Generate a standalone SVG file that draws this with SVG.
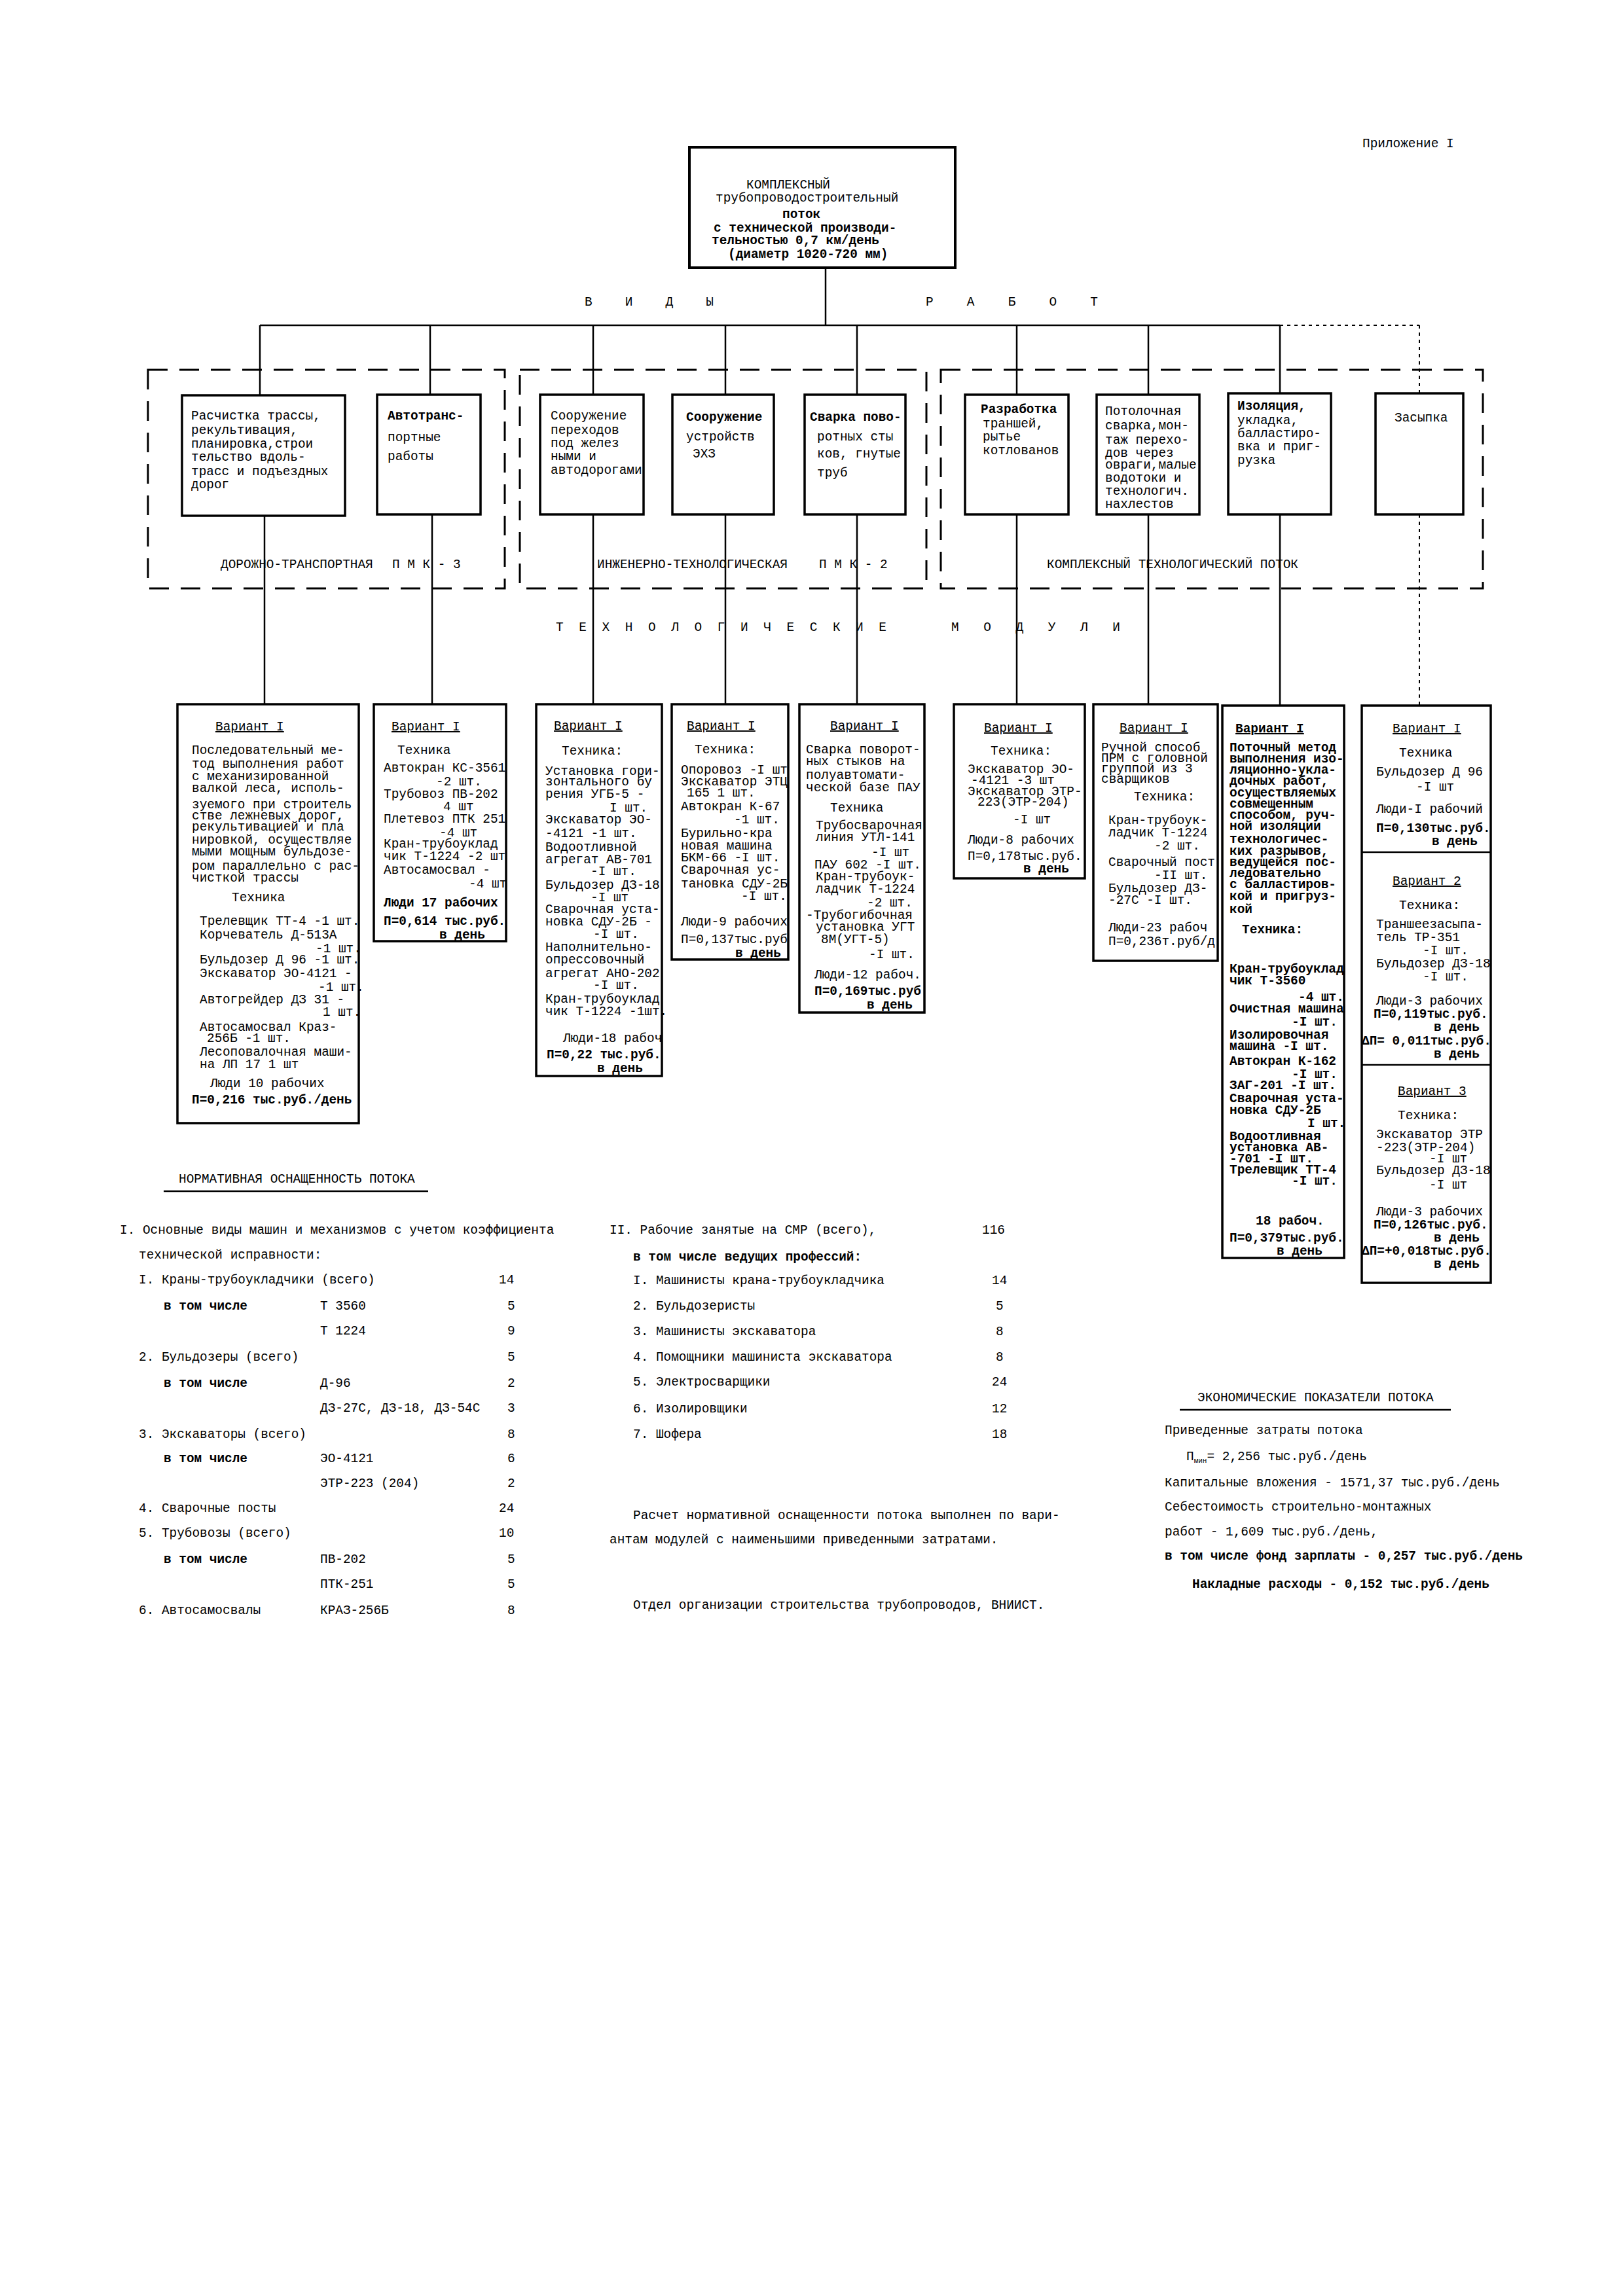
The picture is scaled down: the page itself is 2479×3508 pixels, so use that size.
<svg xmlns="http://www.w3.org/2000/svg" width="2479" height="3508" viewBox="0 0 2479 3508">
<style>
text{font-family:"Liberation Mono","DejaVu Sans Mono",monospace;font-size:19.4px;fill:#000}
.b{font-weight:bold}
.u{text-decoration:underline}
.box{fill:none;stroke:#000;stroke-width:3.5}
.grp{fill:none;stroke:#000;stroke-width:3;stroke-dasharray:30 18}
.ln{fill:none;stroke:#000;stroke-width:2.5}
.dot{fill:none;stroke:#000;stroke-width:2;stroke-dasharray:5 6}
.div{stroke:#000;stroke-width:2.5}
</style>
<rect width="2479" height="3508" fill="#fff"/>
<text x="2081" y="225">Приложение I</text>

<g id="connectors">
<line class="ln" x1="1261" y1="409" x2="1261" y2="497"/>
<line class="ln" x1="397" y1="497" x2="1955" y2="497"/>
<line class="dot" x1="1955" y1="497" x2="2168" y2="497"/>
<line class="ln" x1="397" y1="497" x2="397" y2="604"/>
<line class="ln" x1="657" y1="497" x2="657" y2="603"/>
<line class="ln" x1="906" y1="497" x2="906" y2="603"/>
<line class="ln" x1="1108" y1="497" x2="1108" y2="603"/>
<line class="ln" x1="1309" y1="497" x2="1309" y2="603"/>
<line class="ln" x1="1553" y1="497" x2="1553" y2="603"/>
<line class="ln" x1="1754" y1="497" x2="1754" y2="603"/>
<line class="ln" x1="1955" y1="497" x2="1955" y2="601"/>
<line class="dot" x1="2168" y1="497" x2="2168" y2="601"/>
<line class="ln" x1="404" y1="788" x2="404" y2="1076"/>
<line class="ln" x1="660" y1="786" x2="660" y2="1076"/>
<line class="ln" x1="906" y1="786" x2="906" y2="1076"/>
<line class="ln" x1="1108" y1="786" x2="1108" y2="1076"/>
<line class="ln" x1="1309" y1="786" x2="1309" y2="1076"/>
<line class="ln" x1="1553" y1="786" x2="1553" y2="1076"/>
<line class="ln" x1="1754" y1="786" x2="1754" y2="1076"/>
<line class="ln" x1="1955" y1="786" x2="1955" y2="1078"/>
<line class="dot" x1="2168" y1="786" x2="2168" y2="1078"/>
</g>

<g id="labels">
<text x="893" y="467" textLength="197" lengthAdjust="spacing">В И Д Ы</text>
<text x="1414" y="467" textLength="263" lengthAdjust="spacing">Р А Б О Т</text>
<text x="849" y="964" textLength="505" lengthAdjust="spacing">Т Е Х Н О Л О Г И Ч Е С К И Е</text>
<text x="1453" y="964" textLength="258" lengthAdjust="spacing">М О Д У Л И</text>
</g>

<g id="groups">
<rect class="grp" x="226" y="565" width="545" height="334"/>
<rect class="grp" x="794" y="565" width="621" height="334"/>
<rect class="grp" x="1437" y="565" width="828" height="334"/>
<text x="337" y="868">ДОРОЖНО-ТРАНСПОРТНАЯ</text>
<text x="599" y="868">П М К - 3</text>
<text x="912" y="868">ИНЖЕНЕРНО-ТЕХНОЛОГИЧЕСКАЯ</text>
<text x="1251" y="868">П М К - 2</text>
<text x="1599" y="868">КОМПЛЕКСНЫЙ ТЕХНОЛОГИЧЕСКИЙ ПОТОК</text>
</g>

<g id="root">
<rect class="box" x="1053" y="225" width="406" height="184" style="stroke-width:4"/>
<text x="1140" y="288">КОМПЛЕКСНЫЙ</text>
<text x="1093" y="308">трубопроводостроительный</text>
<text x="1195" y="333" class="b">поток</text>
<text x="1090" y="354" class="b">с технической производи-</text>
<text x="1087" y="373" class="b">тельностью 0,7 км/день</text>
<text x="1112" y="394" class="b">(диаметр 1020-720 мм)</text>
</g>

<g id="w1">
<rect class="box" x="278" y="604" width="249" height="184"/>
<text><tspan x="292" y="641">Расчистка трассы,</tspan><tspan x="292" y="663">рекультивация,</tspan><tspan x="292" y="684">планировка,строи</tspan><tspan x="292" y="704">тельство вдоль-</tspan><tspan x="292" y="726">трасс и подъездных</tspan><tspan x="292" y="746">дорог</tspan></text>
</g>
<g id="w2">
<rect class="box" x="576" y="603" width="158" height="183"/>
<text><tspan x="592" y="641" class="b">Автотранс-</tspan><tspan x="592" y="674">портные</tspan><tspan x="592" y="703">работы</tspan></text>
</g>
<g id="w3">
<rect class="box" x="825" y="603" width="158" height="183"/>
<text><tspan x="841" y="641">Сооружение</tspan><tspan x="841" y="663">переходов</tspan><tspan x="841" y="683">под желез</tspan><tspan x="841" y="703">ными и</tspan><tspan x="841" y="724">автодорогами</tspan></text>
</g>
<g id="w4">
<rect class="box" x="1027" y="603" width="155" height="183"/>
<text><tspan x="1048" y="643" class="b">Сооружение</tspan><tspan x="1048" y="673">устройств</tspan><tspan x="1058" y="699">ЭХЗ</tspan></text>
</g>
<g id="w5">
<rect class="box" x="1229" y="603" width="154" height="183"/>
<text><tspan x="1237" y="643" class="b">Сварка пово-</tspan><tspan x="1248" y="673">ротных сты</tspan><tspan x="1248" y="699">ков, гнутые</tspan><tspan x="1248" y="728">труб</tspan></text>
</g>
<g id="w6">
<rect class="box" x="1474" y="603" width="158" height="183"/>
<text><tspan x="1498" y="631" class="b">Разработка</tspan><tspan x="1501" y="653">траншей,</tspan><tspan x="1501" y="673">рытье</tspan><tspan x="1501" y="694">котлованов</tspan></text>
</g>
<g id="w7">
<rect class="box" x="1675" y="603" width="157" height="183"/>
<text><tspan x="1688" y="634">Потолочная</tspan><tspan x="1688" y="656">сварка,мон-</tspan><tspan x="1688" y="678">таж перехо-</tspan><tspan x="1688" y="698">дов через</tspan><tspan x="1688" y="716">овраги,малые</tspan><tspan x="1688" y="736">водотоки и</tspan><tspan x="1688" y="756">технологич.</tspan><tspan x="1688" y="776">нахлестов</tspan></text>
</g>
<g id="w8">
<rect class="box" x="1876" y="601" width="157" height="185"/>
<text><tspan x="1890" y="626" class="b">Изоляция,</tspan><tspan x="1890" y="648">укладка,</tspan><tspan x="1890" y="668">балластиро-</tspan><tspan x="1890" y="688">вка и приг-</tspan><tspan x="1890" y="709">рузка</tspan></text>
</g>
<g id="w9">
<rect class="box" x="2101" y="601" width="134" height="185"/>
<text x="2130" y="644">Засыпка</text>
</g>

<g id="m1">
<rect class="box" x="271" y="1076" width="277" height="640"/>
<text><tspan x="329" y="1116" class="u">Вариант I</tspan>
<tspan x="293" y="1152">Последовательный ме-</tspan><tspan x="293" y="1173">тод выполнения работ</tspan><tspan x="293" y="1192">с механизированной</tspan><tspan x="293" y="1210">валкой леса, исполь-</tspan><tspan x="293" y="1235">зуемого при строитель</tspan><tspan x="293" y="1252">стве лежневых дорог,</tspan><tspan x="293" y="1269">рекультивацией и пла</tspan><tspan x="293" y="1289">нировкой, осуществляе</tspan><tspan x="293" y="1307">мыми мощным бульдозе-</tspan><tspan x="293" y="1329">ром параллельно с рас-</tspan><tspan x="293" y="1347">чисткой трассы</tspan>
<tspan x="354" y="1377">Техника</tspan>
<tspan x="305" y="1413">Трелевщик ТТ-4 -1 шт.</tspan><tspan x="305" y="1434">Корчеватель Д-513А</tspan><tspan x="482" y="1455">-1 шт.</tspan><tspan x="305" y="1472">Бульдозер Д 96 -1 шт.</tspan><tspan x="305" y="1493">Экскаватор ЭО-4121 -</tspan><tspan x="486" y="1514">-1 шт.</tspan><tspan x="305" y="1533">Автогрейдер ДЗ 31 -</tspan><tspan x="493" y="1552">1 шт.</tspan><tspan x="305" y="1575">Автосамосвал Краз-</tspan><tspan x="316" y="1592">256Б -1 шт.</tspan><tspan x="305" y="1613">Лесоповалочная маши-</tspan><tspan x="305" y="1632">на ЛП 17 1 шт</tspan>
<tspan x="321" y="1661">Люди 10 рабочих</tspan><tspan x="293" y="1686" class="b">П=0,216 тыс.руб./день</tspan></text>
</g>

<g id="m2">
<rect class="box" x="571" y="1076" width="202" height="362"/>
<text><tspan x="598" y="1116" class="u">Вариант I</tspan><tspan x="607" y="1152">Техника</tspan><tspan x="586" y="1179">Автокран КС-3561</tspan><tspan x="666" y="1200">-2 шт.</tspan><tspan x="586" y="1219">Трубовоз ПВ-202</tspan><tspan x="677" y="1238">4 шт</tspan><tspan x="586" y="1257">Плетевоз ПТК 251</tspan><tspan x="671" y="1278">-4 шт</tspan><tspan x="586" y="1295">Кран-трубоуклад</tspan><tspan x="586" y="1314">чик Т-1224 -2 шт</tspan><tspan x="586" y="1335">Автосамосвал -</tspan><tspan x="716" y="1356">-4 шт</tspan><tspan x="586" y="1385" class="b">Люди 17 рабочих</tspan><tspan x="586" y="1413" class="b">П=0,614 тыс.руб.</tspan><tspan x="671" y="1434" class="b">в день</tspan></text>
</g>

<g id="m3">
<rect class="box" x="819" y="1076" width="192" height="568"/>
<text><tspan x="846" y="1115" class="u">Вариант I</tspan><tspan x="858" y="1153">Техника:</tspan><tspan x="833" y="1184">Установка гори-</tspan><tspan x="833" y="1200">зонтального бу</tspan><tspan x="833" y="1219">рения УГБ-5 -</tspan><tspan x="931" y="1240">I шт.</tspan><tspan x="833" y="1258">Экскаватор ЭО-</tspan><tspan x="833" y="1279">-4121 -1 шт.</tspan><tspan x="833" y="1300">Водоотливной</tspan><tspan x="833" y="1319">агрегат АВ-701</tspan><tspan x="902" y="1337">-I шт.</tspan><tspan x="833" y="1358">Бульдозер ДЗ-18</tspan><tspan x="902" y="1377">-I шт</tspan><tspan x="833" y="1395">Сварочная уста-</tspan><tspan x="833" y="1414">новка СДУ-2Б -</tspan><tspan x="906" y="1433">-I шт.</tspan><tspan x="833" y="1453">Наполнительно-</tspan><tspan x="833" y="1472">опрессовочный</tspan><tspan x="833" y="1493">агрегат АНО-202</tspan><tspan x="906" y="1511">-I шт.</tspan><tspan x="833" y="1532">Кран-трубоуклад</tspan><tspan x="833" y="1551">чик Т-1224 -1шт.</tspan><tspan x="860" y="1592">Люди-18 рабоч</tspan><tspan x="835" y="1617" class="b">П=0,22 тыс.руб.</tspan><tspan x="912" y="1638" class="b">в день</tspan></text>
</g>

<g id="m4">
<rect class="box" x="1026" y="1076" width="178" height="390"/>
<text><tspan x="1049" y="1115" class="u">Вариант I</tspan><tspan x="1061" y="1151">Техника:</tspan><tspan x="1040" y="1182">Опоровоз -I шт</tspan><tspan x="1040" y="1200">Экскаватор ЭТЦ</tspan><tspan x="1049" y="1217">165 1 шт.</tspan><tspan x="1040" y="1238">Автокран К-67</tspan><tspan x="1121" y="1258">-1 шт.</tspan><tspan x="1040" y="1279">Бурильно-кра</tspan><tspan x="1040" y="1298">новая машина</tspan><tspan x="1040" y="1316">БКМ-66 -I шт.</tspan><tspan x="1040" y="1335">Сварочная ус-</tspan><tspan x="1040" y="1356">тановка СДУ-2Б</tspan><tspan x="1132" y="1375">-I шт.</tspan><tspan x="1040" y="1414">Люди-9 рабочих</tspan><tspan x="1040" y="1441">П=0,137тыс.руб</tspan><tspan x="1123" y="1462" class="b">в день</tspan></text>
</g>

<g id="m5">
<rect class="box" x="1221" y="1076" width="191" height="471"/>
<text><tspan x="1268" y="1115" class="u">Вариант I</tspan><tspan x="1231" y="1151">Сварка поворот-</tspan><tspan x="1231" y="1169">ных стыков на</tspan><tspan x="1231" y="1190">полуавтомати-</tspan><tspan x="1231" y="1209">ческой базе ПАУ</tspan><tspan x="1268" y="1240">Техника</tspan><tspan x="1246" y="1267">Трубосварочная</tspan><tspan x="1246" y="1285">линия УТЛ-141</tspan><tspan x="1331" y="1308">-I шт</tspan><tspan x="1244" y="1327">ПАУ 602 -I шт.</tspan><tspan x="1246" y="1345">Кран-трубоук-</tspan><tspan x="1246" y="1364">ладчик Т-1224</tspan><tspan x="1324" y="1385">-2 шт.</tspan><tspan x="1231" y="1404">-Трубогибочная</tspan><tspan x="1246" y="1422">установка УГТ</tspan><tspan x="1254" y="1441">8М(УГТ-5)</tspan><tspan x="1327" y="1464">-I шт.</tspan><tspan x="1244" y="1495">Люди-12 рабоч.</tspan><tspan x="1244" y="1520" class="b">П=0,169тыс.руб</tspan><tspan x="1324" y="1541" class="b">в день</tspan></text>
</g>

<g id="m6">
<rect class="box" x="1457" y="1076" width="200" height="266"/>
<text><tspan x="1503" y="1118" class="u">Вариант I</tspan><tspan x="1513" y="1153">Техника:</tspan><tspan x="1478" y="1181">Экскаватор ЭО-</tspan><tspan x="1483" y="1198">-4121 -3 шт</tspan><tspan x="1478" y="1215">Экскаватор ЭТР-</tspan><tspan x="1493" y="1231">223(ЭТР-204)</tspan><tspan x="1547" y="1258">-I шт</tspan><tspan x="1478" y="1289">Люди-8 рабочих</tspan><tspan x="1478" y="1314">П=0,178тыс.руб.</tspan><tspan x="1563" y="1333" class="b">в день</tspan></text>
</g>

<g id="m7">
<rect class="box" x="1670" y="1076" width="190" height="392"/>
<text><tspan x="1710" y="1118" class="u">Вариант I</tspan><tspan x="1682" y="1148">Ручной способ</tspan><tspan x="1682" y="1164">ПРМ с головной</tspan><tspan x="1682" y="1180">группой из 3</tspan><tspan x="1682" y="1196">сварщиков</tspan><tspan x="1732" y="1223">Техника:</tspan><tspan x="1693" y="1259">Кран-трубоук-</tspan><tspan x="1693" y="1278">ладчик Т-1224</tspan><tspan x="1763" y="1298">-2 шт.</tspan><tspan x="1693" y="1323">Сварочный пост</tspan><tspan x="1763" y="1343">-II шт.</tspan><tspan x="1693" y="1363">Бульдозер ДЗ-</tspan><tspan x="1693" y="1381">-27С -I шт.</tspan><tspan x="1693" y="1423">Люди-23 рабоч</tspan><tspan x="1693" y="1444">П=0,236т.руб/д</tspan></text>
</g>

<g id="m8">
<rect class="box" x="1867" y="1078" width="186" height="844"/>
<text class="b"><tspan x="1887" y="1119" class="u">Вариант I</tspan><tspan x="1878" y="1148">Поточный метод</tspan><tspan x="1878" y="1165">выполнения изо-</tspan><tspan x="1878" y="1182">ляционно-укла-</tspan><tspan x="1878" y="1199">дочных работ,</tspan><tspan x="1878" y="1217">осуществляемых</tspan><tspan x="1878" y="1234">совмещенным</tspan><tspan x="1878" y="1251">способом, руч-</tspan><tspan x="1878" y="1268">ной изоляции</tspan><tspan x="1878" y="1288">технологичес-</tspan><tspan x="1878" y="1306">ких разрывов,</tspan><tspan x="1878" y="1323">ведущейся пос-</tspan><tspan x="1878" y="1340">ледовательно</tspan><tspan x="1878" y="1357">с балластиров-</tspan><tspan x="1878" y="1375">кой и пригруз-</tspan><tspan x="1878" y="1395">кой</tspan><tspan x="1897" y="1426">Техника:</tspan><tspan x="1878" y="1486">Кран-трубоуклад</tspan><tspan x="1878" y="1504">чик Т-3560</tspan><tspan x="1983" y="1529">-4 шт.</tspan><tspan x="1878" y="1547">Очистная машина</tspan><tspan x="1973" y="1567">-I шт.</tspan><tspan x="1878" y="1587">Изолировочная</tspan><tspan x="1878" y="1604">машина -I шт.</tspan><tspan x="1878" y="1627">Автокран К-162</tspan><tspan x="1973" y="1647">-I шт.</tspan><tspan x="1878" y="1664">ЗАГ-201 -I шт.</tspan><tspan x="1878" y="1684">Сварочная уста-</tspan><tspan x="1878" y="1702">новка СДУ-2Б</tspan><tspan x="1997" y="1722">I шт.</tspan><tspan x="1878" y="1742">Водоотливная</tspan><tspan x="1878" y="1759">установка АВ-</tspan><tspan x="1878" y="1776">-701 -I шт.</tspan><tspan x="1878" y="1793">Трелевщик ТТ-4</tspan><tspan x="1973" y="1810">-I шт.</tspan><tspan x="1918" y="1871">18 рабоч.</tspan><tspan x="1878" y="1897">П=0,379тыс.руб.</tspan><tspan x="1950" y="1917">в день</tspan></text>
</g>

<g id="m9">
<rect class="box" x="2080" y="1078" width="197" height="882"/>
<line class="div" x1="2080" y1="1302" x2="2277" y2="1302"/>
<line class="div" x1="2080" y1="1627" x2="2277" y2="1627"/>
<text><tspan x="2127" y="1119" class="u">Вариант I</tspan><tspan x="2137" y="1156">Техника</tspan><tspan x="2102" y="1185">Бульдозер Д 96</tspan><tspan x="2163" y="1208">-I шт</tspan><tspan x="2102" y="1242">Люди-I рабочий</tspan><tspan x="2102" y="1271" class="b">П=0,130тыс.руб.</tspan><tspan x="2187" y="1291" class="b">в день</tspan>
<tspan x="2127" y="1352" class="u">Вариант 2</tspan><tspan x="2137" y="1389">Техника:</tspan><tspan x="2102" y="1418">Траншеезасыпа-</tspan><tspan x="2102" y="1438">тель ТР-351</tspan><tspan x="2173" y="1458">-I шт.</tspan><tspan x="2102" y="1478">Бульдозер ДЗ-18</tspan><tspan x="2173" y="1498">-I шт.</tspan><tspan x="2102" y="1535">Люди-3 рабочих</tspan><tspan x="2098" y="1555" class="b">П=0,119тыс.руб.</tspan><tspan x="2190" y="1575" class="b">в день</tspan><tspan x="2080" y="1596" class="b">ΔП= 0,011тыс.руб.</tspan><tspan x="2190" y="1616" class="b">в день</tspan>
<tspan x="2135" y="1673" class="u">Вариант 3</tspan><tspan x="2135" y="1710">Техника:</tspan><tspan x="2102" y="1739">Экскаватор ЭТР</tspan><tspan x="2102" y="1759">-223(ЭТР-204)</tspan><tspan x="2183" y="1776">-I шт</tspan><tspan x="2102" y="1794">Бульдозер ДЗ-18</tspan><tspan x="2183" y="1816">-I шт</tspan><tspan x="2102" y="1857">Люди-3 рабочих</tspan><tspan x="2098" y="1877" class="b">П=0,126тыс.руб.</tspan><tspan x="2190" y="1897" class="b">в день</tspan><tspan x="2080" y="1917" class="b">ΔП=+0,018тыс.руб.</tspan><tspan x="2190" y="1937" class="b">в день</tspan></text>
</g>

<g id="norm">
<text x="273" y="1807">НОРМАТИВНАЯ ОСНАЩЕННОСТЬ ПОТОКА</text>
<line class="div" x1="250" y1="1820" x2="654" y2="1820"/>
<text x="183" y="1885">I. Основные виды машин и механизмов с учетом коэффициента</text>
<text x="212" y="1923">технической исправности:</text>
<text x="212" y="1961">I. Краны-трубоукладчики (всего)</text><text x="762" y="1961">14</text>
<text x="250" y="2001" class="b">в том числе</text><text x="489" y="2001">Т 3560</text><text x="775" y="2001">5</text>
<text x="489" y="2039">Т 1224</text><text x="775" y="2039">9</text>
<text x="212" y="2079">2. Бульдозеры (всего)</text><text x="775" y="2079">5</text>
<text x="250" y="2119" class="b">в том числе</text><text x="489" y="2119">Д-96</text><text x="775" y="2119">2</text>
<text x="489" y="2157">ДЗ-27С, ДЗ-18, ДЗ-54С</text><text x="775" y="2157">3</text>
<text x="212" y="2197">3. Экскаваторы (всего)</text><text x="775" y="2197">8</text>
<text x="250" y="2234" class="b">в том числе</text><text x="489" y="2234">ЭО-4121</text><text x="775" y="2234">6</text>
<text x="489" y="2272">ЭТР-223 (204)</text><text x="775" y="2272">2</text>
<text x="212" y="2310">4. Сварочные посты</text><text x="762" y="2310">24</text>
<text x="212" y="2348">5. Трубовозы (всего)</text><text x="762" y="2348">10</text>
<text x="250" y="2388" class="b">в том числе</text><text x="489" y="2388">ПВ-202</text><text x="775" y="2388">5</text>
<text x="489" y="2426">ПТК-251</text><text x="775" y="2426">5</text>
<text x="212" y="2466">6. Автосамосвалы</text><text x="489" y="2466">КРАЗ-256Б</text><text x="775" y="2466">8</text>
</g>

<g id="workers">
<text x="931" y="1885">II. Рабочие занятые на СМР (всего),</text><text x="1500" y="1885">116</text>
<text x="967" y="1926" class="b">в том числе ведущих профессий:</text>
<text x="967" y="1962">I. Машинисты крана-трубоукладчика</text><text x="1515" y="1962">14</text>
<text x="967" y="2001">2. Бульдозеристы</text><text x="1521" y="2001">5</text>
<text x="967" y="2040">3. Машинисты экскаватора</text><text x="1521" y="2040">8</text>
<text x="967" y="2079">4. Помощники машиниста экскаватора</text><text x="1521" y="2079">8</text>
<text x="967" y="2117">5. Электросварщики</text><text x="1515" y="2117">24</text>
<text x="967" y="2158">6. Изолировщики</text><text x="1515" y="2158">12</text>
<text x="967" y="2197">7. Шофера</text><text x="1515" y="2197">18</text>
<text x="967" y="2321">Расчет нормативной оснащенности потока выполнен по вари-</text>
<text x="931" y="2358">антам модулей с наименьшими приведенными затратами.</text>
<text x="967" y="2458">Отдел организации строительства трубопроводов, ВНИИСТ.</text>
</g>

<g id="econ">
<text x="1829" y="2141">ЭКОНОМИЧЕСКИЕ ПОКАЗАТЕЛИ ПОТОКА</text>
<line class="div" x1="1802" y1="2154" x2="2216" y2="2154"/>
<text x="1779" y="2191">Приведенные затраты потока</text>
<text x="1812" y="2231">П<tspan font-size="11" dy="4">мин</tspan><tspan dy="-4">= 2,256 тыс.руб./день</tspan></text>
<text x="1779" y="2271">Капитальные вложения - 1571,37 тыс.руб./день</text>
<text x="1779" y="2308">Себестоимость строительно-монтажных</text>
<text x="1779" y="2346">работ - 1,609 тыс.руб./день,</text>
<text x="1779" y="2383" class="b">в том числе фонд зарплаты - 0,257 тыс.руб./день</text>
<text x="1821" y="2426" class="b">Накладные расходы - 0,152 тыс.руб./день</text>
</g>
</svg>
